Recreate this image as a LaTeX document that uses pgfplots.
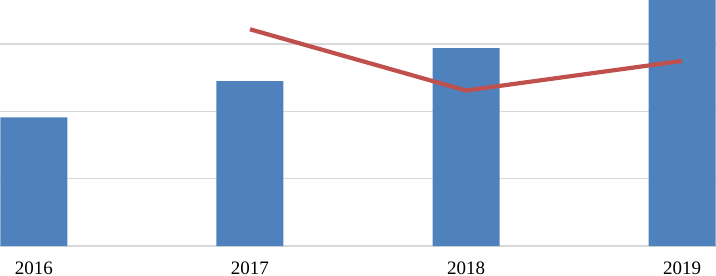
\documentclass[border=0pt]{standalone}
\usepackage{fontspec}
\setmainfont{Liberation Serif}
\usepackage{pgfplots}
\pgfplotsset{compat=1.18}
\definecolor{barblue}{HTML}{4F81BD}
\definecolor{linered}{HTML}{C0504D}
\definecolor{gridgray}{HTML}{D9D9D9}
\begin{document}
\begin{tikzpicture}
\begin{axis}[
  scale only axis,
  width=716bp, height=246bp,
  xmin=-0.157, xmax=3.157,
  ymin=0, ymax=365.5,
  axis line style={draw=none},
  tick style={draw=none},
  ytick={0,100,200,300},
  yticklabels={},
  ymajorgrids,
  grid style={gridgray, line width=1.6bp},
  xtick={0,1,2,3},
  xticklabels={2016,2017,2018,2019},
  xticklabel style={anchor=base, inner sep=0pt, yshift=-28bp, font=\fontsize{19bp}{22bp}\selectfont},
  major tick length=0pt,
  clip=true,
]
\addplot[ybar, bar width=67bp, fill=barblue, draw=none, bar shift=0pt] coordinates {(0,191) (1,245) (2,294) (3,380)};
\addplot[linered, line width=4.2bp, line join=round] coordinates {(1,322) (2,231) (3,275)};
\coordinate (bl) at (rel axis cs:0,0);
\coordinate (tr) at (rel axis cs:1,1);
\end{axis}
\pgfresetboundingbox
\useasboundingbox ([yshift=-30bp]bl) rectangle (tr);
\end{tikzpicture}
\end{document}
